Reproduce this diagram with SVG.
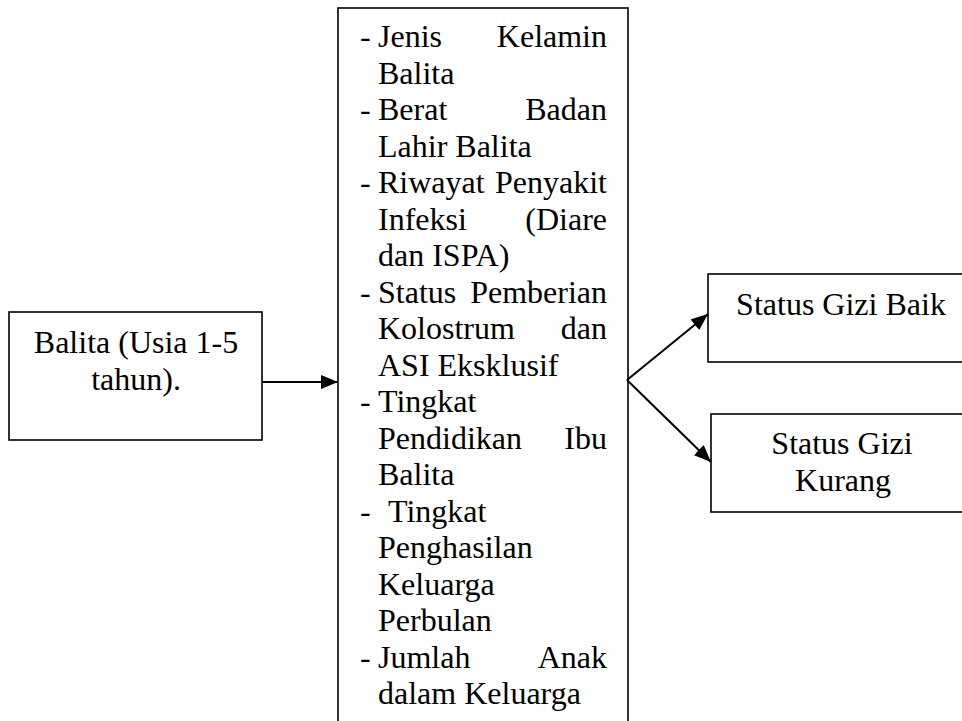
<svg xmlns="http://www.w3.org/2000/svg" width="962" height="721" viewBox="0 0 962 721">
  <style>
    .box { fill: #ffffff; stroke: #000000; stroke-width: 1.6; }
    .t { font-family: 'Liberation Serif', 'Times New Roman', Times, 'DejaVu Serif', serif; font-size: 32px; fill: #000000; }
    .c { text-anchor: middle; }
    .e { text-anchor: end; }
    .conn { stroke: #000000; stroke-width: 2; fill: none; }
  </style>
  <defs>
    <marker id="arrow" viewBox="0 0 17 14" refX="17" refY="7" markerWidth="17" markerHeight="14" markerUnits="userSpaceOnUse" orient="auto">
      <path d="M0,0 L17,7 L0,14 Z" fill="#000000"/>
    </marker>
  </defs>
  <rect width="962" height="721" fill="#ffffff"/>

  <g id="node-balita">
    <rect class="box" x="9" y="312" width="253" height="128"/>
    <text class="t c" x="136" y="353">Balita (Usia 1-5</text>
    <text class="t c" x="136" y="390">tahun).</text>
  </g>

  <g id="node-faktor">
    <rect class="box" x="338" y="8" width="290" height="740"/>
    <g class="t">
      <text x="360" y="47">-</text><text x="378" y="47">Jenis</text><text class="e" x="607" y="47">Kelamin</text>
      <text x="378" y="83.5">Balita</text>
      <text x="360" y="120">-</text><text x="378" y="120">Berat</text><text class="e" x="607" y="120">Badan</text>
      <text x="378" y="156.5">Lahir Balita</text>
      <text x="360" y="193">-</text><text x="378" y="193">Riwayat</text><text class="e" x="607" y="193">Penyakit</text>
      <text x="378" y="229.5">Infeksi</text><text class="e" x="607" y="229.5">(Diare</text>
      <text x="378" y="266">dan ISPA)</text>
      <text x="360" y="302.5">-</text><text x="378" y="302.5">Status</text><text class="e" x="607" y="302.5">Pemberian</text>
      <text x="378" y="339">Kolostrum</text><text class="e" x="607" y="339">dan</text>
      <text x="378" y="375.5">ASI Eksklusif</text>
      <text x="360" y="412">-</text><text x="378" y="412">Tingkat</text>
      <text x="378" y="448.5">Pendidikan</text><text class="e" x="607" y="448.5">Ibu</text>
      <text x="378" y="485">Balita</text>
      <text x="360" y="521.5">-</text><text x="388" y="521.5">Tingkat</text>
      <text x="378" y="558">Penghasilan</text>
      <text x="378" y="594.5">Keluarga</text>
      <text x="378" y="631">Perbulan</text>
      <text x="360" y="667.5">-</text><text x="378" y="667.5">Jumlah</text><text class="e" x="607" y="667.5">Anak</text>
      <text x="378" y="704">dalam Keluarga</text>
    </g>
  </g>

  <g id="node-baik">
    <rect class="box" x="708" y="274" width="262" height="88"/>
    <text class="t c" x="841" y="315">Status Gizi Baik</text>
  </g>

  <g id="node-kurang">
    <rect class="box" x="711" y="414" width="262" height="98"/>
    <text class="t c" x="842" y="454">Status Gizi</text>
    <text class="t c" x="843" y="491">Kurang</text>
  </g>

  <g id="connectors">
    <line class="conn" x1="262" y1="382" x2="338" y2="382" marker-end="url(#arrow)"/>
    <line class="conn" x1="627" y1="380" x2="708" y2="314" marker-end="url(#arrow)"/>
    <line class="conn" x1="627" y1="380" x2="711" y2="462" marker-end="url(#arrow)"/>
  </g>
</svg>
